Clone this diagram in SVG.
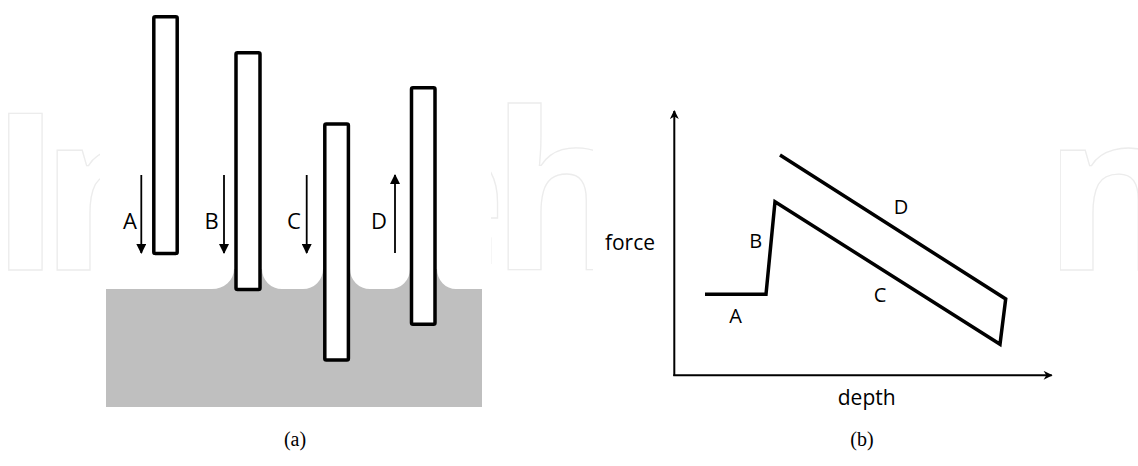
<svg xmlns="http://www.w3.org/2000/svg" width="1138" height="466" viewBox="0 0 1138 466">
  <style>
    .wm { font-family: "Open Sans", "DejaVu Sans", sans-serif; font-weight: 700; font-size: 220px; fill: none; stroke: #ececec; stroke-width: 1.3; }
    .rod { fill: #ffffff; stroke: #000000; stroke-width: 3.5; }
    .arr { stroke: #000000; stroke-width: 1.8; fill: none; }
    .lblA { font-family: "Open Sans", "Liberation Sans", sans-serif; font-size: 22px; fill: #000000; text-anchor: middle; }
    .lblB { font-family: "Open Sans", "Liberation Sans", sans-serif; font-size: 20px; fill: #000000; text-anchor: middle; }
    .axis { stroke: #000000; stroke-width: 2; fill: none; }
    .curve { stroke: #000000; stroke-width: 3.5; fill: none; stroke-linejoin: miter; }
    .cap { font-family: "Liberation Serif", "Times New Roman", serif; font-size: 20px; fill: #000000; text-anchor: middle; }
  </style>
  <defs>
    <marker id="ah" viewBox="0 0 10 10" refX="9" refY="5" markerWidth="10" markerHeight="10" markerUnits="userSpaceOnUse" orient="auto">
      <path d="M0,0 L10,5 L0,10 Z" fill="#000000"/>
    </marker>
    <marker id="axh" viewBox="0 0 10 10" refX="9" refY="5" markerWidth="11" markerHeight="9" markerUnits="userSpaceOnUse" orient="auto">
      <path d="M0,0 L10,5 L0,10 L3,5 Z" fill="#000000"/>
    </marker>
  </defs>
  <rect x="0" y="0" width="1138" height="466" fill="#ffffff"/>

  <g id="watermark">
    <text class="wm" x="-11" y="270">I</text>
    <text class="wm" x="40" y="270">n</text>
    <text class="wm" x="377" y="270">e</text>
    <text class="wm" x="491" y="270">h</text>
    <text class="wm" x="1043" y="270">n</text>
    <rect x="100" y="0" width="391" height="466" fill="#ffffff"/>
    <rect x="593" y="0" width="467" height="466" fill="#ffffff"/>
  </g>

  <g id="substrate">
    <path d="M106,289 H212 A22 20 0 0 0 234,269 H262 A20 20 0 0 0 282,289 H303 A20 20 0 0 0 323,269 H350 A20 20 0 0 0 370,289 H390 A20 20 0 0 0 410,269 H437 A19 20 0 0 0 456,289 H482 V407 H106 Z" fill="#bfbfbf"/>
  </g>

  <g id="rod-A"><rect class="rod" x="153.8" y="16.8" width="23.4" height="236.6" rx="1.5"/></g>
  <g id="rod-B"><rect class="rod" x="236" y="52.8" width="24" height="236.6" rx="1.5"/></g>
  <g id="rod-C"><rect class="rod" x="324.8" y="124" width="23.6" height="236" rx="1.5"/></g>
  <g id="rod-D"><rect class="rod" x="411.5" y="87.8" width="23.5" height="236.5" rx="1.5"/></g>

  <g id="connectors">
    <line class="arr" x1="141.3" y1="175" x2="141.3" y2="253" marker-end="url(#ah)"/>
    <line class="arr" x1="224" y1="175" x2="224" y2="253" marker-end="url(#ah)"/>
    <line class="arr" x1="306.7" y1="175" x2="306.7" y2="253" marker-end="url(#ah)"/>
    <line class="arr" x1="395" y1="253" x2="395" y2="175" marker-end="url(#ah)"/>
    <line class="axis" x1="674.3" y1="376" x2="674.3" y2="111" marker-end="url(#axh)"/>
    <line class="axis" x1="673.3" y1="375.3" x2="1051.7" y2="375.3" marker-end="url(#axh)"/>
    <polyline class="curve" points="705,294.3 766,294.3 775,201.7 1000,344.3 1005.7,299 780,155"/>
  </g>

  <g id="labels-a">
    <text class="lblA" x="130" y="229">A</text>
    <text class="lblA" x="211.7" y="229">B</text>
    <text class="lblA" x="294" y="229">C</text>
    <text class="lblA" x="379" y="229">D</text>
  </g>

  <g id="labels-b">
    <text class="lblB" x="735.7" y="323.3">A</text>
    <text class="lblB" x="755.7" y="248.3">B</text>
    <text class="lblB" x="880" y="301.7">C</text>
    <text class="lblB" x="901" y="214.3">D</text>
    <text class="lblB" x="630" y="250" style="font-size:21px">force</text>
    <text class="lblB" x="866.7" y="405" style="font-size:21px">depth</text>
  </g>

  <g id="captions">
    <text class="cap" x="295" y="446">(a)</text>
    <text class="cap" x="862" y="446">(b)</text>
  </g>
</svg>
